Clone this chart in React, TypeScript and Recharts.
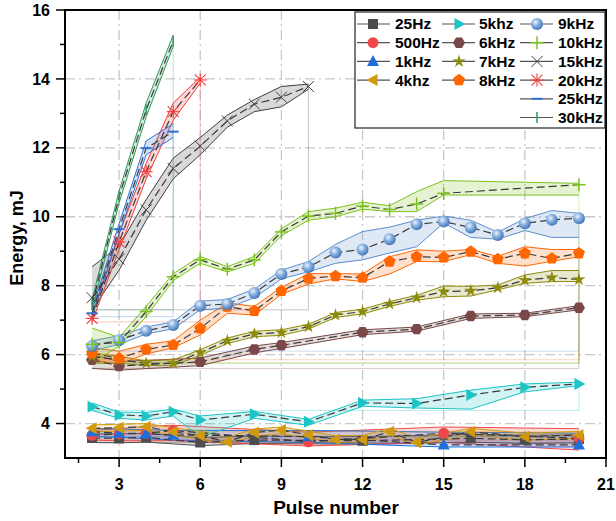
import React from "react"
import {
  Area,
  CartesianGrid,
  ComposedChart,
  Line,
  ReferenceArea,
  ReferenceLine,
  XAxis,
  YAxis,
} from "recharts"

const _ = null

// pulse numbers on the x axis
const pulses = [2, 3, 4, 5, 6, 7, 8, 9, 10, 11, 12, 13, 14, 15, 16, 17, 18, 19, 20]

// mean energy (mJ) and band limits per repetition rate
const hz25 = [3.58, 3.57, 3.6, _, 3.45, _, 3.52, _, _, _, 3.5, _, _, _, 3.57, _, 3.53, _, 3.55]
const hz25Lo = [3.45, 3.44, 3.46, _, 3.36, _, 3.42, _, _, _, 3.4, _, _, _, 3.46, _, 3.42, _, 3.44]
const hz25Hi = [3.7, 3.7, 3.72, _, 3.58, _, 3.64, _, _, _, 3.62, _, _, _, 3.68, _, 3.66, _, 3.67]

const hz500 = [3.66, 3.7, 3.72, 3.8, _, _, _, _, 3.47, _, _, _, _, 3.72, _, _, _, _, 3.57]
const hz500Lo = [3.52, 3.5, 3.5, 3.5, _, _, _, _, 3.35, _, _, _, _, 3.45, _, _, _, _, 3.23]
const hz500Hi = [3.8, 3.85, 3.92, 3.95, _, _, _, _, 3.75, _, _, _, _, 3.9, _, _, _, _, 3.85]

const k1 = [3.76, 3.72, 3.7, 3.67, _, _, _, _, 3.62, _, _, _, _, 3.38, _, _, _, _, 3.38]
const k1Lo = [3.62, 3.6, 3.56, 3.52, _, _, _, _, 3.45, _, _, _, _, 3.32, _, _, _, _, 3.32]
const k1Hi = [3.86, 3.84, 3.82, 3.8, _, _, _, _, 3.8, _, _, _, _, 3.75, _, _, _, _, 3.72]

const k4 = [3.86, 3.88, 3.91, 3.76, 3.65, 3.47, 3.74, 3.81, 3.67, 3.54, 3.54, 3.76, 3.45, _, 3.76, _, 3.62, _, 3.67]
const k4Lo = [3.76, 3.78, 3.8, 3.66, 3.55, 3.4, 3.64, 3.7, 3.57, 3.45, 3.45, 3.66, 3.38, _, 3.66, _, 3.52, _, 3.57]
const k4Hi = [3.96, 3.98, 4.0, 3.88, 3.78, 3.6, 3.84, 3.9, 3.78, 3.65, 3.65, 3.86, 3.58, _, 3.86, _, 3.72, _, 3.77]

const k5 = [4.49, 4.25, 4.22, 4.34, 4.1, _, 4.27, _, 4.05, _, 4.6, _, 4.58, _, 4.83, _, 5.05, _, 5.15]
const k5Lo = [4.38, 4.15, 4.1, 4.22, 3.6, _, 4.15, _, 3.95, _, 4.5, _, 4.45, _, 4.42, _, 4.92, _, 5.1]
const k5Hi = [4.6, 4.33, 4.32, 4.42, 4.22, _, 4.35, _, 4.12, _, 4.68, _, 4.72, _, 4.97, _, 5.15, _, 5.2]

const k6 = [5.85, 5.67, _, _, 5.79, _, 6.15, 6.27, _, _, 6.65, _, 6.74, _, 7.12, _, 7.15, _, 7.36]
const k6Lo = [5.6, 5.55, _, _, 5.68, _, 6.05, 6.18, _, _, 6.58, _, 6.68, _, 7.05, _, 7.1, _, 7.3]
const k6Hi = [6.0, 5.8, _, _, 5.9, _, 6.25, 6.35, _, _, 6.72, _, 6.8, _, 7.18, _, 7.2, _, 7.42]

const k7 = [5.95, 5.85, 5.75, 5.75, 6.06, 6.4, 6.6, 6.64, 6.81, 7.15, 7.25, 7.47, 7.65, 7.83, 7.85, 7.94, 8.16, 8.24, 8.18]
const k7Lo = [5.75, 5.75, 5.68, 5.68, 5.98, 6.32, 6.52, 6.56, 6.74, 7.08, 7.18, 7.4, 7.58, 7.68, 7.7, 7.88, 8.07, 8.12, 8.12]
const k7Hi = [6.05, 5.95, 5.82, 5.85, 6.14, 6.48, 6.68, 6.72, 6.88, 7.22, 7.32, 7.54, 7.72, 7.99, 7.98, 8.02, 8.31, 8.44, 8.44]

const k8 = [6.04, 5.89, 6.15, 6.28, 6.76, 7.39, 7.27, 7.85, 8.21, 8.28, 8.23, 8.7, 8.84, 8.82, 8.99, 8.77, 8.94, 8.79, 8.94]
const k8Lo = [5.85, 5.72, 6.02, 6.2, 6.57, 7.2, 7.15, 7.75, 8.05, 8.2, 8.12, 8.34, 8.7, 8.7, 8.9, 8.65, 8.57, 8.71, 8.84]
const k8Hi = [6.2, 6.1, 6.3, 6.4, 7.0, 7.5, 7.4, 7.95, 8.35, 8.35, 8.34, 8.84, 9.04, 9.0, 9.05, 8.85, 9.13, 9.05, 9.05]

const k9 = [6.25, 6.42, 6.69, 6.86, 7.42, 7.47, 7.79, 8.34, 8.54, 8.96, 9.05, 9.35, 9.78, 9.86, 9.69, 9.47, 9.81, 9.91, 9.96]
const k9Lo = [6.1, 6.3, 6.6, 6.75, 7.3, 7.35, 7.65, 8.2, 8.4, 8.65, 8.75, 8.95, 9.13, 9.82, 9.4, 9.35, 9.6, 9.4, 9.4]
const k9Hi = [6.4, 6.55, 6.8, 6.95, 7.55, 7.6, 7.9, 8.45, 8.7, 9.2, 9.57, 9.7, 9.9, 10.02, 9.9, 9.55, 9.95, 10.18, 10.1]

const k10 = [6.3, 6.35, 7.25, 8.26, 8.75, 8.48, 8.75, 9.56, 10.02, 10.1, 10.31, 10.21, 10.37, 10.68, _, _, _, _, 10.93]
const k10Lo = [5.76, 6.25, 7.1, 8.15, 8.65, 8.4, 8.65, 9.45, 9.9, 10.0, 10.22, 10.15, 10.15, 10.63, _, _, _, _, 10.63]
const k10Hi = [6.77, 6.5, 7.4, 8.35, 8.85, 8.55, 8.85, 9.65, 10.15, 10.25, 10.42, 10.32, 10.73, 11.05, _, _, _, _, 10.97]

const k15 = [7.65, 8.77, 10.2, 11.4, 12.05, 12.78, 13.27, 13.47, 13.78]
const k15Lo = [7.3, 8.45, 9.9, 11.1, 11.8, 12.6, 13.05, 13.19, 13.7]
const k15Hi = [8.55, 9.15, 10.5, 11.7, 12.3, 12.95, 13.4, 13.78, 13.85]

const k20 = [7.05, 9.27, 11.31, 13.05, 13.97]
const k20Lo = [6.95, 9.05, 11.1, 12.8, 13.88]
const k20Hi = [7.15, 9.5, 11.55, 13.3, 14.05]

const k25 = [7.2, 9.64, 11.99, 12.47]
const k25Lo = [7.1, 9.5, 11.8, 12.3]
const k25Hi = [7.3, 9.8, 12.2, 12.7]

const k30 = [7.45, 10.58, 13.1, 15.1]
const k30Lo = [7.3, 10.4, 12.9, 14.94]
const k30Hi = [7.6, 10.75, 13.3, 15.27]

const xTicks = [1.5, 3, 4.5, 6, 7.5, 9, 10.5, 12, 13.5, 15, 16.5, 18, 19.5, 21]
const yTicks = [4, 5, 6, 7, 8, 9, 10, 11, 12, 13, 14, 15, 16]
const gridX = [3, 6, 9, 12, 15, 18]
const gridY = [4, 6, 8, 10, 12, 14]

type Shape =
  | "square" | "circle" | "triUp" | "triLeft" | "triRight" | "hexagon" | "star"
  | "pentagon" | "sphere" | "plus" | "cross" | "asterisk" | "hdash" | "vbar"

interface Series {
  id: string
  name: string
  mean: (number | null)[]
  lo: (number | null)[]
  hi: (number | null)[]
  color: string
  shape: Shape
}

const series: Series[] = [
  { id: "hz25", name: "25Hz", mean: hz25, lo: hz25Lo, hi: hz25Hi, color: "#4d4d4d", shape: "square" },
  { id: "hz500", name: "500Hz", mean: hz500, lo: hz500Lo, hi: hz500Hi, color: "#f04848", shape: "circle" },
  { id: "k1", name: "1kHz", mean: k1, lo: k1Lo, hi: k1Hi, color: "#1e6fdc", shape: "triUp" },
  { id: "k4", name: "4khz", mean: k4, lo: k4Lo, hi: k4Hi, color: "#d09a0c", shape: "triLeft" },
  { id: "k5", name: "5khz", mean: k5, lo: k5Lo, hi: k5Hi, color: "#1cc4c4", shape: "triRight" },
  { id: "k6", name: "6kHz", mean: k6, lo: k6Lo, hi: k6Hi, color: "#7a4848", shape: "hexagon" },
  { id: "k7", name: "7kHz", mean: k7, lo: k7Lo, hi: k7Hi, color: "#8c8c0a", shape: "star" },
  { id: "k8", name: "8kHz", mean: k8, lo: k8Lo, hi: k8Hi, color: "#ff6600", shape: "pentagon" },
  { id: "k9", name: "9kHz", mean: k9, lo: k9Lo, hi: k9Hi, color: "#5b8fcc", shape: "sphere" },
  { id: "k10", name: "10kHz", mean: k10, lo: k10Lo, hi: k10Hi, color: "#7cc21e", shape: "plus" },
  { id: "k15", name: "15kHz", mean: k15, lo: k15Lo, hi: k15Hi, color: "#404040", shape: "cross" },
  { id: "k20", name: "20kHz", mean: k20, lo: k20Lo, hi: k20Hi, color: "#f03c3c", shape: "asterisk" },
  { id: "k25", name: "25kHz", mean: k25, lo: k25Lo, hi: k25Hi, color: "#2f72d8", shape: "hdash" },
  { id: "k30", name: "30kHz", mean: k30, lo: k30Lo, hi: k30Hi, color: "#2e9a5c", shape: "vbar" },
]

const rows = pulses.map((x, i) => {
  const row: Record<string, any> = { x }
  series.forEach((s) => {
    const lo = s.lo[i] ?? null
    const hi = s.hi[i] ?? null
    row[s.id] = s.mean[i] ?? null
    row[s.id + "Band"] = lo == null || hi == null ? null : [lo, hi]
  })
  return row
})

// the fill polygons close back to the first lower value, leaving faint edges
function closure(s: Series) {
  const idx = s.mean.map((v, i) => (v == null ? -1 : i)).filter((i) => i >= 0)
  const f = idx[0]
  const l = idx[idx.length - 1]
  const base = s.lo[f] as number
  return [
    [{ x: pulses[l], y: s.hi[l] as number }, { x: pulses[l], y: base }],
    [{ x: pulses[l], y: base }, { x: pulses[f], y: base }],
  ]
}

const FONT = "'Liberation Sans', Arial, sans-serif"

function poly(cx: number, cy: number, n: number, r: number, rot: number) {
  const pts: string[] = []
  for (let k = 0; k < n; k++) {
    const a = rot + (k * 2 * Math.PI) / n
    pts.push(`${cx + r * Math.cos(a)},${cy + r * Math.sin(a)}`)
  }
  return pts.join(" ")
}

function Mark({ cx, cy, shape, color }: { cx: number; cy: number; shape: Shape; color: string }) {
  const r = 5.5
  switch (shape) {
    case "square":
      return <rect x={cx - r + 0.5} y={cy - r + 0.5} width={2 * r - 1} height={2 * r - 1} fill={color} />
    case "circle":
      return <circle cx={cx} cy={cy} r={r} fill={color} />
    case "triUp":
      return <polygon points={`${cx},${cy - r - 1} ${cx + r + 0.5},${cy + r - 1} ${cx - r - 0.5},${cy + r - 1}`} fill={color} />
    case "triLeft":
      return <polygon points={`${cx - r - 1},${cy} ${cx + r - 1},${cy - r - 0.5} ${cx + r - 1},${cy + r + 0.5}`} fill={color} />
    case "triRight":
      return <polygon points={`${cx + r + 1},${cy} ${cx - r + 1},${cy - r - 0.5} ${cx - r + 1},${cy + r + 0.5}`} fill={color} />
    case "hexagon":
      return <polygon points={poly(cx, cy, 6, r + 0.5, 0)} fill={color} />
    case "pentagon":
      return <polygon points={poly(cx, cy, 5, r + 0.8, -Math.PI / 2)} fill={color} />
    case "star": {
      const pts: string[] = []
      for (let k = 0; k < 10; k++) {
        const a = -Math.PI / 2 + (k * Math.PI) / 5
        const rr = k % 2 === 0 ? r + 1.5 : r * 0.45
        pts.push(`${cx + rr * Math.cos(a)},${cy + rr * Math.sin(a)}`)
      }
      return <polygon points={pts.join(" ")} fill={color} />
    }
    case "sphere":
      return (
        <g>
          <defs>
            <radialGradient id="sphere9" cx="38%" cy="35%" r="70%">
              <stop offset="0%" stopColor="#eef4fc" />
              <stop offset="45%" stopColor="#85afe0" />
              <stop offset="100%" stopColor="#3d6fb0" />
            </radialGradient>
          </defs>
          <circle cx={cx} cy={cy} r={r + 0.5} fill="url(#sphere9)" />
        </g>
      )
    case "plus":
      return (
        <g stroke={color} strokeWidth={1.5}>
          <line x1={cx - r - 1} x2={cx + r + 1} y1={cy} y2={cy} />
          <line x1={cx} x2={cx} y1={cy - r - 1} y2={cy + r + 1} />
        </g>
      )
    case "cross":
      return (
        <g stroke={color} strokeWidth={1}>
          <line x1={cx - r} x2={cx + r} y1={cy - r} y2={cy + r} />
          <line x1={cx - r} x2={cx + r} y1={cy + r} y2={cy - r} />
        </g>
      )
    case "asterisk":
      return (
        <g stroke={color} strokeWidth={1.1}>
          <line x1={cx - r - 1} x2={cx + r + 1} y1={cy} y2={cy} />
          <line x1={cx} x2={cx} y1={cy - r - 1} y2={cy + r + 1} />
          <line x1={cx - r} x2={cx + r} y1={cy - r} y2={cy + r} />
          <line x1={cx - r} x2={cx + r} y1={cy + r} y2={cy - r} />
        </g>
      )
    case "hdash":
      return <line x1={cx - r} x2={cx + r} y1={cy} y2={cy} stroke={color} strokeWidth={2} />
    case "vbar":
      return <line x1={cx} x2={cx} y1={cy - r} y2={cy + r} stroke={color} strokeWidth={1.5} />
  }
  return null
}

function XTick({ x, y, payload }: any) {
  const v = payload.value
  const major = v % 3 === 0
  return (
    <g>
      <line x1={x} x2={x} y1={y} y2={y + (major ? 9 : 5)} stroke="#000" strokeWidth={1.5} />
      {major && (
        <text x={x} y={y + 26} dy="0.35em" textAnchor="middle" fontSize={16} fontWeight="bold" fontFamily={FONT} fill="#000">
          {v}
        </text>
      )}
    </g>
  )
}

function YTick({ x, y, payload }: any) {
  const v = payload.value
  const major = v % 2 === 0
  return (
    <g>
      <line x1={x - (major ? 9 : 5)} x2={x} y1={y} y2={y} stroke="#000" strokeWidth={1.5} />
      {major && (
        <text x={x - 15} y={y} dy="0.35em" textAnchor="end" fontSize={16} fontWeight="bold" fontFamily={FONT} fill="#000">
          {v}
        </text>
      )}
    </g>
  )
}

// legend layout: three columns, four rows (third column runs on)
const legendCols = [
  { line: 357, mark: 373, text: 395 },
  { line: 442, mark: 459, text: 479 },
  { line: 520, mark: 537, text: 558 },
]

function Legend() {
  return (
    <g>
      <rect x={355} y={12} width={250} height={116} fill="#fff" stroke="#222" strokeWidth={1.2} />
      {series.map((s, i) => {
        const col = Math.min(Math.floor(i / 4), 2)
        const row = col === 2 ? i - 8 : i % 4
        const c = legendCols[col]
        const y = 24 + row * 18.7
        return (
          <g key={s.id}>
            <line x1={c.line} x2={c.line + 33} y1={y} y2={y} stroke="#555" strokeWidth={1.2} />
            <Mark cx={c.mark} cy={y} shape={s.shape} color={s.color} />
            <text x={c.text} y={y} dy="0.35em" fontSize={15.5} fontWeight="bold" fontFamily={FONT} fill="#000">
              {s.name}
            </text>
          </g>
        )
      })}
    </g>
  )
}

export default function App() {
  return (
    <div style={{ position: "absolute", left: 0, top: 0, width: 616, height: 521, background: "#fff" }}>
      <ComposedChart width={616} height={521} data={rows} margin={{ top: 10, right: 10, left: 0, bottom: 0 }}>
        <CartesianGrid
          horizontalValues={gridY}
          verticalValues={gridX}
          stroke="#c8c8c8"
          strokeWidth={1.3}
          strokeDasharray="10 4 2 4"
        />
        <XAxis
          dataKey="x"
          type="number"
          domain={[1, 21]}
          ticks={xTicks}
          interval={0}
          height={63}
          tickSize={0}
          tickMargin={0}
          tick={<XTick />}
          axisLine={{ stroke: "#000", strokeWidth: 2 }}
          allowDataOverflow
        />
        <YAxis
          type="number"
          domain={[3, 16]}
          ticks={yTicks}
          interval={0}
          width={65}
          tickSize={0}
          tickMargin={0}
          tick={<YTick />}
          axisLine={{ stroke: "#000", strokeWidth: 2 }}
          allowDataOverflow
        />
        {series.map((s) =>
          closure(s).map((seg, j) => (
            <ReferenceLine
              key={`${s.id}-c${j}`}
              segment={seg}
              stroke={s.color}
              strokeOpacity={0.3}
              strokeWidth={1}
            />
          ))
        )}
        {series.flatMap((s) => [
          <Area
            key={s.id + "Band"}
            type="linear"
            dataKey={s.id + "Band"}
            stroke={s.color}
            strokeWidth={1}
            fill={s.color}
            fillOpacity={0.2}
            connectNulls
            dot={false}
            activeDot={false}
            isAnimationActive={false}
          />,
          <Line
            key={s.id}
            type="linear"
            dataKey={s.id}
            stroke="#3a3a3a"
            strokeWidth={1.2}
            strokeDasharray="8 4"
            connectNulls
            activeDot={false}
            isAnimationActive={false}
            dot={(p: any) =>
              p.cx == null || p.cy == null || p.value == null ? (
                <g key={`${s.id}-d${p.index}`} />
              ) : (
                <Mark key={`${s.id}-d${p.index}`} cx={p.cx} cy={p.cy} shape={s.shape} color={s.color} />
              )
            }
          />,
        ])}
        <ReferenceArea x1={1} x2={21} y1={3} y2={16} fill="none" stroke="#000" strokeWidth={2} />
      </ComposedChart>
      <svg width={616} height={521} style={{ position: "absolute", left: 0, top: 0, pointerEvents: "none" }}>
        <Legend />
        <text x={336} y={507} dy="0.35em" textAnchor="middle" fontSize={19} fontWeight="bold" fontFamily={FONT} fill="#000">
          Pulse number
        </text>
        <text
          x={17}
          y={238}
          dy="0.35em"
          textAnchor="middle"
          fontSize={18}
          fontWeight="bold"
          fontFamily={FONT}
          fill="#000"
          transform="rotate(-90 17 238)"
        >
          Energy, mJ
        </text>
      </svg>
    </div>
  )
}
